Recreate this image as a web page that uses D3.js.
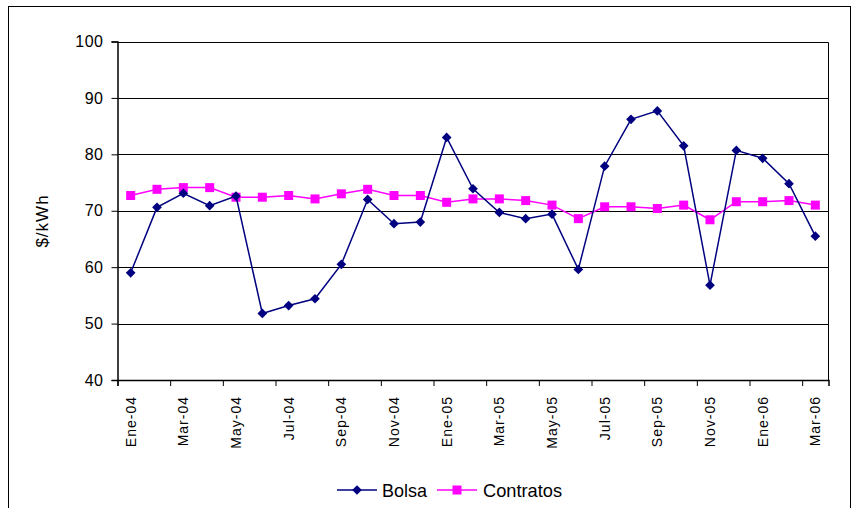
<!doctype html>
<html>
<head>
    <meta charset="utf-8">
    <title> Bolsa vs Contratos </title>
    <script src="https://d3js.org/d3.v7.min.js"></script>
    <style>
        body { margin: 0; background: #fff; }
        text { font-family: "Liberation Sans", Arial, sans-serif; fill: #000; }
    </style>
</head>
<body>
    <script>
        // months, one per point
        var months = ["Ene-04","Feb-04","Mar-04","Abr-04","May-04","Jun-04","Jul-04","Ago-04","Sep-04","Oct-04","Nov-04","Dic-04",
                      "Ene-05","Feb-05","Mar-05","Abr-05","May-05","Jun-05","Jul-05","Ago-05","Sep-05","Oct-05","Nov-05","Dic-05",
                      "Ene-06","Feb-06","Mar-06"];
        var bolsa = [59.0,70.6,73.1,70.9,72.6,51.8,53.2,54.4,60.5,72.0,67.7,68.0,
                     83.0,73.9,69.7,68.6,69.4,59.6,77.9,86.2,87.7,81.5,56.8,80.7,
                     79.3,74.8,65.5];
        var contratos = [72.7,73.8,74.1,74.1,72.4,72.4,72.7,72.1,73.0,73.8,72.7,72.7,
                         71.5,72.1,72.1,71.8,71.0,68.6,70.7,70.7,70.4,71.0,68.4,71.6,
                         71.6,71.8,71.0];
        var yTicks = [40,50,60,70,80,90,100];

        var width = 852, height = 508;
        var plotLeft = 117.5, plotRight = 828.5, plotTop = 41.5, plotBottom = 380;

        var svg = d3.select("body").append("svg")
            .attr("width", width)
            .attr("height", height);

        // outer frame
        svg.append("rect")
            .attr("x", 8.5).attr("y", 6.5)
            .attr("width", 842).attr("height", 520)
            .attr("fill", "none").attr("stroke", "#000").attr("stroke-width", 1);

        var x = d3.scaleBand().domain(months).range([plotLeft, plotRight]).padding(0);
        var xi = d3.scaleLinear().domain([0, months.length]).range([plotLeft, plotRight]);
        var y = d3.scaleLinear().domain([40, 100]).range([plotBottom, plotTop]);

        // gridlines
        svg.append("g").selectAll("line")
            .data(yTicks.slice(1))
            .enter().append("line")
            .attr("x1", plotLeft).attr("x2", plotRight)
            .attr("y1", function(d){ return Math.round(y(d)) + 0.5; })
            .attr("y2", function(d){ return Math.round(y(d)) + 0.5; })
            .attr("stroke", "#000").attr("stroke-width", 1);

        // right border
        svg.append("line")
            .attr("x1", plotRight).attr("x2", plotRight)
            .attr("y1", Math.round(y(100)) + 0.5).attr("y2", plotBottom)
            .attr("stroke", "#000");

        // y axis
        var yAxis = svg.append("g")
            .attr("transform", "translate(" + plotLeft + ",0)")
            .call(d3.axisLeft(y).tickValues(yTicks).tickSize(6).tickPadding(8));
        yAxis.select(".domain").attr("stroke", "#000").attr("stroke-width", 1.5);
        yAxis.selectAll("text")
            .style("font-size", "16px")
            .style("letter-spacing", "0.5px")
            .style("font-family", "'Liberation Sans', Arial, sans-serif");

        // x axis tick marks on category boundaries
        var xTickAxis = svg.append("g")
            .attr("transform", "translate(0," + plotBottom + ")")
            .call(d3.axisBottom(xi).tickValues(d3.range(0, months.length, 2)).tickFormat("").tickSize(6));
        xTickAxis.select(".domain").attr("stroke", "#000").attr("stroke-width", 1.5);

        // x labels, every second month
        var xLabels = svg.append("g")
            .attr("transform", "translate(0," + plotBottom + ")")
            .call(d3.axisBottom(x).tickValues(months.filter(function(d, i){ return i % 2 == 0; })).tickSize(0));
        xLabels.select(".domain").remove();
        xLabels.selectAll("text")
            .attr("transform", "rotate(-90)")
            .attr("x", -16)
            .attr("y", 0)
            .attr("dy", "0.36em")
            .style("text-anchor", "end")
            .style("font-size", "14px")
            .style("letter-spacing", "1px")
            .style("font-family", "'Liberation Sans', Arial, sans-serif");

        // y title
        svg.append("text")
            .attr("transform", "translate(48,221) rotate(-90)")
            .style("text-anchor", "middle")
            .style("font-size", "17px")
            .style("letter-spacing", "1px")
            .text("$/kWh");

        var line = d3.line()
            .x(function(d, i){ return x(months[i]) + x.bandwidth() / 2; })
            .y(function(d){ return y(d); });

        // Contratos series
        svg.append("path").datum(contratos)
            .attr("d", line)
            .attr("fill", "none").attr("stroke", "#FF00FF").attr("stroke-width", 1.5);
        svg.append("g").selectAll("rect")
            .data(contratos)
            .enter().append("rect")
            .attr("x", function(d, i){ return x(months[i]) + x.bandwidth() / 2 - 4.5; })
            .attr("y", function(d){ return y(d) - 4.5; })
            .attr("width", 9).attr("height", 9)
            .attr("fill", "#FF00FF");

        // Bolsa series
        svg.append("path").datum(bolsa)
            .attr("d", line)
            .attr("fill", "none").attr("stroke", "#000080").attr("stroke-width", 1.5);
        var diamond = d3.symbol().type(d3.symbolDiamond2).size(60);
        svg.append("g").selectAll("path")
            .data(bolsa)
            .enter().append("path")
            .attr("d", diamond)
            .attr("transform", function(d, i){
                return "translate(" + (x(months[i]) + x.bandwidth() / 2) + "," + y(d) + ")";
            })
            .attr("fill", "#000080");

        // legend
        var legend = svg.append("g").attr("transform", "translate(0,490)");
        legend.append("line").attr("x1", 337).attr("x2", 377).attr("y1", 0).attr("y2", 0)
            .attr("stroke", "#000080").attr("stroke-width", 1.5);
        legend.append("path").attr("d", diamond).attr("transform", "translate(357,0)").attr("fill", "#000080");
        legend.append("text").attr("x", 382).attr("y", 0).attr("dy", "0.36em")
            .attr("textLength", 45).attr("lengthAdjust", "spacingAndGlyphs")
            .style("font-size", "19px").text("Bolsa");
        legend.append("line").attr("x1", 437).attr("x2", 477).attr("y1", 0).attr("y2", 0)
            .attr("stroke", "#FF00FF").attr("stroke-width", 1.5);
        legend.append("rect").attr("x", 452.5).attr("y", -4.5).attr("width", 9).attr("height", 9).attr("fill", "#FF00FF");
        legend.append("text").attr("x", 483).attr("y", 0).attr("dy", "0.36em")
            .attr("textLength", 79).attr("lengthAdjust", "spacingAndGlyphs")
            .style("font-size", "19px").text("Contratos");
    </script>
</body>
</html>
